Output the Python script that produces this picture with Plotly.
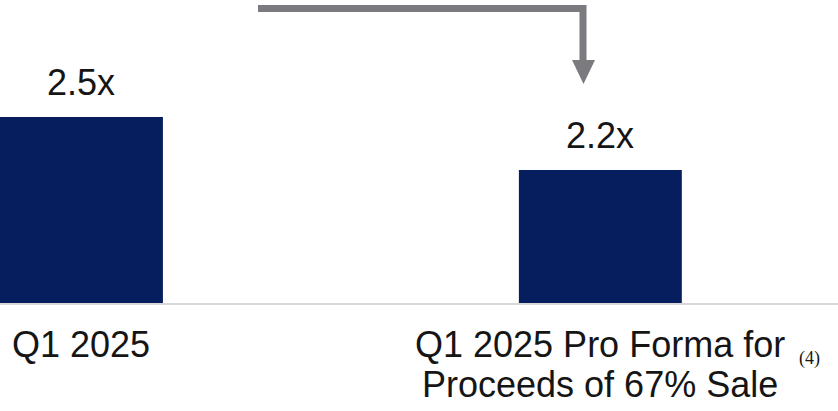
import plotly.graph_objects as go

categories = ["Q1 2025", "Q1 2025 Pro Forma"]
values = [2.5, 2.2]
value_labels = ["2.5x", "2.2x"]
label_line1 = ["Q1 2025", "Q1 2025 Pro Forma for"]
label_line2 = ["", "Proceeds of 67% Sale"]
footnote = "(4)"

W, H = 838, 411
BOTTOM = 108
PLOT_H = H - BOTTOM
FONT = "Arial, Liberation Sans, sans-serif"
NAVY = "#071e5e"
GRAY = "#7b7b7f"
TXT = "#151515"

fig = go.Figure()
fig.add_trace(go.Bar(
    x=categories, y=values, width=0.314,
    marker=dict(color=NAVY, line=dict(width=0)),
    hoverinfo="skip",
))

def py(p):  # pixel from top -> paper y
    return 1 - p / PLOT_H

def px(p):
    return p / W

annotations = []
for c, v, t in zip(categories, values, value_labels):
    annotations.append(dict(x=c, y=v, xref="x", yref="y", text=t, showarrow=False,
                            yanchor="bottom", yshift=12,
                            font=dict(family=FONT, size=36, color=TXT)))
for c, t in zip(categories, label_line1):
    annotations.append(dict(x=c, y=py(345), xref="x", yref="paper", text=t, showarrow=False,
                            yanchor="middle", font=dict(family=FONT, size=36, color=TXT)))
for c, t in zip(categories, label_line2):
    if t:
        annotations.append(dict(x=c, y=py(384), xref="x", yref="paper", text=t, showarrow=False,
                                yanchor="middle", font=dict(family=FONT, size=36, color=TXT)))
annotations.append(dict(x=px(809), y=py(358), xref="paper", yref="paper", text=footnote,
                        showarrow=False, xanchor="center", yanchor="middle",
                        font=dict(family="Liberation Serif, Times New Roman, serif", size=18, color=TXT)))

shapes = [
    dict(type="path", xref="paper", yref="paper",
         path=f"M {px(258)} {py(8.5)} L {px(583)} {py(8.5)} L {px(583)} {py(62)}",
         line=dict(color=GRAY, width=7), fillcolor="rgba(0,0,0,0)"),
    dict(type="path", xref="paper", yref="paper",
         path=f"M {px(572)} {py(60)} L {px(595)} {py(60)} L {px(583.5)} {py(84)} Z",
         line=dict(color=GRAY, width=0), fillcolor=GRAY),
]

fig.update_layout(
    width=W, height=H,
    margin=dict(l=0, r=0, t=0, b=BOTTOM),
    paper_bgcolor="white", plot_bgcolor="white",
    showlegend=False,
    xaxis=dict(range=[-0.157, 1.458], showticklabels=False, ticks="",
               showline=True, linecolor="#d8d8d8", linewidth=2, showgrid=False, zeroline=False),
    yaxis=dict(range=[1.4472, 3.162], visible=False),
    annotations=annotations,
    shapes=shapes,
)

fig.write_html("out.html", config={"displayModeBar": False},
               post_script="document.body.style.margin='0';document.body.style.padding='0';")
